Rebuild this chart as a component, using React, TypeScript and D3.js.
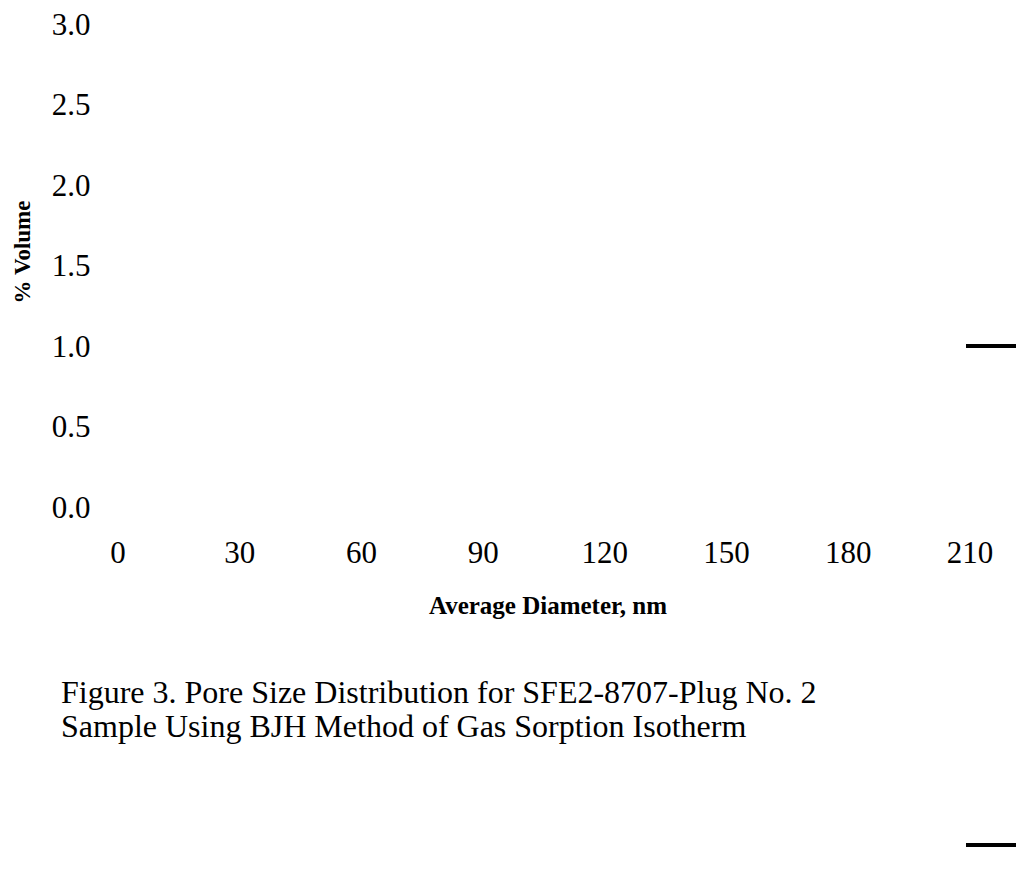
import React from "react";
import * as d3 from "d3";

const xTicks = [0, 30, 60, 90, 120, 150, 180, 210];
const yTicks = [0.0, 0.5, 1.0, 1.5, 2.0, 2.5, 3.0];
const xLabel = "Average Diameter, nm";
const yLabel = "% Volume";
const captionLines = [
  "Figure 3. Pore Size Distribution for SFE2-8707-Plug No. 2",
  "Sample Using BJH Method of Gas Sorption Isotherm",
];
const sideMarks = [1.0, -2.1];

export default function App() {
  const W = 1016, H = 871;
  const x = d3.scaleLinear().domain([0, 210]).range([118, 970]);
  const y = d3.scaleLinear().domain([0, 3]).range([507, 24]);
  const font = "'Liberation Serif', 'Times New Roman', serif";
  return (
    <svg width={W} height={H} style={{ position: "absolute", left: 0, top: 0, background: "#fff" }}>
      <g fontFamily={font} fill="#000">
        {yTicks.map((t) => (
          <text key={"y" + t} x={71} y={y(t)} fontSize={31} textAnchor="middle" dominantBaseline="central">
            {d3.format(".1f")(t)}
          </text>
        ))}
        {xTicks.map((t) => (
          <text key={"x" + t} x={x(t)} y={552} fontSize={31} textAnchor="middle" dominantBaseline="central">
            {t}
          </text>
        ))}
        <text x={548} y={605} fontSize={25} fontWeight="bold" textAnchor="middle" dominantBaseline="central">
          {xLabel}
        </text>
        <text
          transform={`translate(22,252) rotate(-90)`}
          fontSize={23}
          fontWeight="bold"
          textAnchor="middle"
          dominantBaseline="central"
        >
          {yLabel}
        </text>
        {captionLines.map((l, i) => (
          <text key={i} x={61} y={692 + i * 34} fontSize={32} dominantBaseline="central">
            {l}
          </text>
        ))}
      </g>
      {sideMarks.map((v, i) => (
        <line key={i} x1={966} x2={1016} y1={y(v)} y2={y(v)} stroke="#000" strokeWidth={4} />
      ))}
    </svg>
  );
}
